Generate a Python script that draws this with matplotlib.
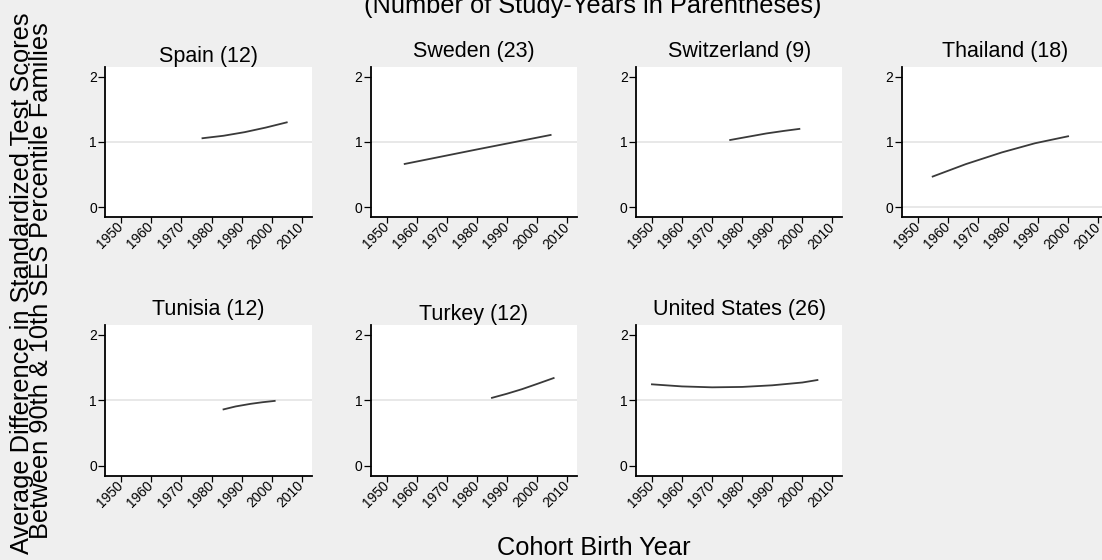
import matplotlib.pyplot as plt

plt.rcParams["font.family"] = ["Liberation Sans", "DejaVu Sans"]

# panel titles and study-year counts
countries = ["Spain", "Sweden", "Switzerland", "Thailand", "Tunisia", "Turkey", "United States"]
n_years = [12, 23, 9, 18, 12, 12, 26]

# fitted trend: (birth year, gap in SD)
spain_x = [1977, 1984, 1991, 1998, 2005]
spain_y = [1.057, 1.095, 1.15, 1.22, 1.30]
sweden_x = [1956, 1980, 2004.5]
sweden_y = [0.663, 0.885, 1.107]
swiss_x = [1976, 1982, 1988, 1994, 1999]
swiss_y = [1.03, 1.08, 1.13, 1.17, 1.20]
thai_x = [1955, 1966, 1978, 1989, 2000]
thai_y = [0.47, 0.66, 0.84, 0.98, 1.087]
tunisia_x = [1984, 1988, 1993, 1997, 2001]
tunisia_y = [0.86, 0.905, 0.945, 0.97, 0.99]
turkey_x = [1985, 1990, 1995, 2000, 2005.5]
turkey_y = [1.037, 1.10, 1.17, 1.25, 1.34]
us_x = [1950, 1960, 1970, 1980, 1990, 2000, 2005]
us_y = [1.244, 1.212, 1.198, 1.204, 1.229, 1.272, 1.31]

series = [(spain_x, spain_y), (sweden_x, sweden_y), (swiss_x, swiss_y), (thai_x, thai_y),
          (tunisia_x, tunisia_y), (turkey_x, turkey_y), (us_x, us_y)]

year_ticks = [1950, 1960, 1970, 1980, 1990, 2000, 2010]
gap_ticks = [0, 1, 2]

W, H = 1102, 560
fig = plt.figure(figsize=(W / 100, H / 100), dpi=100)
fig.patch.set_facecolor("#efefef")

col_left = [105.3, 370.7, 636, 901.7]
row_top = [66.7, 325]
ax_w, ax_h = 206.4, 150.5

for i, name in enumerate(countries):
    r, c = divmod(i, 4)
    ax = fig.add_axes([col_left[c] / W, 1 - (row_top[r] + ax_h) / H, ax_w / W, ax_h / H])
    ax.set_facecolor("white")
    ax.set_xlim(1944.7, 2013.3)
    ax.set_ylim(-0.153, 2.153)
    ax.axhline(1, color="#e4e4e4", lw=1.2, zorder=0)
    if name == "Thailand":
        ax.axhline(0, color="#e4e4e4", lw=1.2, zorder=0)
    xs, ys = series[i]
    ax.plot(xs, ys, color="#3a3a3a", lw=1.3)

    for s in ["top", "right"]:
        ax.spines[s].set_visible(False)
    for s in ["left", "bottom"]:
        ax.spines[s].set_linewidth(1.3)
    ax.set_yticks(gap_ticks)
    ax.set_xticks(year_ticks)
    ax.tick_params(axis="y", length=5, width=0.9, pad=1, labelsize=10)
    ax.tick_params(axis="x", length=4.5, width=0.9, pad=1, labelsize=10)
    for lab in ax.get_xticklabels():
        lab.set_rotation(45)
        lab.set_ha("right")
        lab.set_va("center")
        lab.set_rotation_mode("anchor")

    pad = 3.6 if any(ch in name for ch in "gjpqy") else 7.2
    ax.set_title(f"{name} ({n_years[i]})", fontsize=15.5, pad=pad)

fig.text(593 / W, 1 - 13 / H, "(Number of Study-Years in Parentheses)",
         ha="center", va="baseline", fontsize=18.3)
fig.text(594 / W, 1 - 555 / H, "Cohort Birth Year", ha="center", va="baseline", fontsize=18.3)
fig.text(28.6 / W, 1 - 283 / H, "Average Difference in Standardized Test Scores",
         rotation=90, rotation_mode="anchor", ha="center", va="baseline", fontsize=18.3)
fig.text(48.2 / W, 1 - 281 / H, "Between 90th & 10th SES Percentile Families",
         rotation=90, rotation_mode="anchor", ha="center", va="baseline", fontsize=18.3)

fig.savefig("out.png", dpi=100, facecolor=fig.get_facecolor())
